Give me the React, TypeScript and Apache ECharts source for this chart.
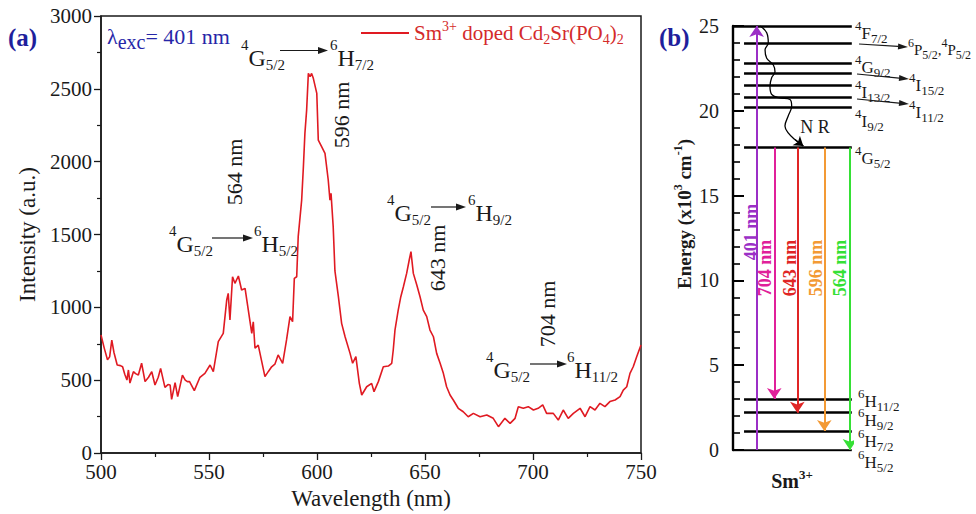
import React, { useEffect, useRef } from "react";
import * as echarts from "echarts";

// ---------- Panel (a): emission spectrum ----------
const wavelength = [
  500, 501.5, 503, 504, 505, 506, 507.5, 509, 510, 511,
  512, 512.7, 513.4, 515, 516, 517.3, 518.8, 520.4, 522, 523.5,
  525, 526.5, 527.6, 529.6, 531, 532, 532.7, 534.3, 535.5, 537.7,
  539, 540, 541, 543.2, 545.8, 548.1, 550.5, 552, 554.3, 556.6,
  558.2, 558.9, 559.7, 560.9, 562, 563.6, 565.1, 566.7, 568.2, 569.8,
  570.5, 571.3, 572.8, 575.9, 577.5, 579, 580.5, 582, 584.1, 585.9,
  587.5, 588.7, 589.5, 590.6, 591.3, 592.9, 593.7, 594.4, 595.2, 596,
  596.8, 597.5, 598.3, 599.9, 600.6, 602.2, 603.7, 605.2, 606, 606.5,
  607.5, 608.3, 609.9, 611.4, 613, 615.3, 616.5, 618, 619.6, 620.7,
  623, 625.3, 626.4, 628.4, 630.7, 633, 634.6, 635.3, 636.1, 637.6,
  638.8, 640, 641.5, 642.7, 643.5, 644.6, 646.2, 647.7, 649.2, 650.8,
  652.3, 653.9, 655.4, 657, 658.5, 660, 661.6, 663.1, 665.4, 667.7,
  670, 672.4, 675.5, 678.6, 681.6, 684, 687, 689.4, 691.7, 693.2,
  695.5, 697.8, 700.2, 702.4, 704.5, 706.3, 709.4, 711.7, 714, 716.3,
  718.7, 721.8, 724.1, 726.4, 728.7, 731, 733.3, 735.6, 738, 740.3,
  741.8, 743.4, 744.9, 746.4, 748, 750,
];
const intensity = [
  810, 720, 640, 660, 775, 690, 604, 600, 592, 540,
  501, 570, 480, 558, 545, 535, 616, 490, 520, 558,
  467, 520, 581, 451, 470, 467, 368, 483, 387, 535,
  500, 490, 490, 428, 520, 547, 604, 558, 764, 821,
  1050, 1096, 913, 1210, 1165, 1215, 1119, 1130, 981, 821,
  901, 719, 741, 524, 560, 592, 610, 673, 616, 776,
  936, 901, 1199, 1210, 1485, 1736, 1965, 2194, 2354, 2606,
  2583, 2606, 2572, 2469, 2148, 2102, 2057, 1874, 1736, 1782,
  1553, 1250, 1073, 890, 798, 684, 616, 661, 478, 398,
  455, 478, 421, 490, 592, 597, 616, 707, 844, 981,
  1073, 1141, 1233, 1325, 1382, 1233, 1153, 1073, 981, 936,
  844, 798, 684, 616, 547, 455, 398, 364, 307, 283,
  249, 272, 249, 261, 238, 181, 238, 203, 238, 318,
  307, 318, 295, 307, 330, 272, 272, 226, 295, 238,
  272, 307, 249, 318, 295, 341, 318, 353, 364, 387,
  432, 455, 547, 592, 661, 741,
];
const seriesName = "Sm3+ doped Cd2Sr(PO4)2";

// ---------- Panel (b): energy levels (x10^3 cm^-1) ----------
const levelEnergy = [25.0, 23.96, 22.83, 22.24, 21.51, 20.8, 20.21, 17.83, 3.0, 2.2, 1.12, 0];
const transitionLabels = ["401 nm", "704 nm", "643 nm", "596 nm", "564 nm"];
const transitionFrom = [0, 17.83, 17.83, 17.83, 17.83];
const transitionTo = [25, 3.0, 2.2, 1.12, 0];
const nrPathX = [2.25, 2.81, 2.94, 2.67, 2.81, 3.36, 3.5, 3.22, 3.08, 3.22, 3.78, 4.75, 4.89, 4.6, 4.33, 4.6, 5.17, 5.86];
const nrPathY = [25, 24.6, 24.0, 23.6, 23.1, 22.7, 22.3, 21.95, 21.45, 20.97, 20.77, 20.67, 20.28, 19.69, 19.1, 18.7, 18.3, 17.92];

// ---------- styles ----------
const FONT = "'Liberation Serif', 'Times New Roman', serif";
const INK = "#1a1a1a";
const BLUE = "#2626a8";
const RED = "#e01a22";
const transX = [1.97, 3.44, 5.36, 7.61, 9.75];
const transColor = ["#9b2fc6", "#e0209a", "#e02525", "#f39a35", "#35e035"];
const transLabelPos = [
  [751, 232],
  [765, 268],
  [790, 268],
  [815.5, 268],
  [840, 268],
];

const richL = {
  p: { fontFamily: FONT, fontSize: 15, fill: INK, padding: [0, 0, 26, 0], verticalAlign: "middle" },
  m: { fontFamily: FONT, fontSize: 24, fill: INK, verticalAlign: "middle" },
  q: { fontFamily: FONT, fontSize: 15, fill: INK, padding: [14, 0, 0, 0], verticalAlign: "middle" },
};
const richR = {
  p: { fontFamily: FONT, fontSize: 13, fill: INK, padding: [0, 0, 16, 0], verticalAlign: "middle" },
  m: { fontFamily: FONT, fontSize: 17, fill: INK, verticalAlign: "middle" },
  q: { fontFamily: FONT, fontSize: 13, fill: INK, padding: [10, 0, 0, 0], verticalAlign: "middle" },
};
const richRs = {
  p: { fontFamily: FONT, fontSize: 12, fill: INK, padding: [0, 0, 14, 0], verticalAlign: "middle" },
  m: { fontFamily: FONT, fontSize: 15, fill: INK, verticalAlign: "middle" },
  q: { fontFamily: FONT, fontSize: 12, fill: INK, padding: [9, 0, 0, 0], verticalAlign: "middle" },
};
const term = (s: string, L: string, sub: string) => `{p|${s}}{m|${L}}{q|${sub}}`;

function richText(x: number, y: number, text: string, rich: any, size: number) {
  return {
    type: "text",
    x,
    y,
    silent: true,
    style: { text, rich, fill: INK, fontFamily: FONT, fontSize: size, align: "left", verticalAlign: "middle" },
  };
}
function rotText(x: number, y: number, text: string, color: string, size: number, weight = "normal") {
  return {
    type: "text",
    x,
    y,
    rotation: Math.PI / 2,
    silent: true,
    style: { text, fill: color, fontFamily: FONT, fontSize: size, fontWeight: weight, align: "center", verticalAlign: "middle" },
  };
}
function arrow(x1: number, y1: number, x2: number, y2: number, hl = 10, hw = 3.5, w = 1.2) {
  const dx = x2 - x1;
  const dy = y2 - y1;
  const L = Math.hypot(dx, dy);
  const ux = dx / L;
  const uy = dy / L;
  const bx = x2 - ux * hl;
  const by = y2 - uy * hl;
  return [
    { type: "line", silent: true, shape: { x1, y1, x2: bx, y2: by }, style: { stroke: INK, lineWidth: w } },
    {
      type: "polygon",
      silent: true,
      shape: { points: [[x2, y2], [bx - uy * hw, by + ux * hw], [bx + uy * hw, by - ux * hw]] },
      style: { fill: INK },
    },
  ];
}

function buildGraphic() {
  const g: any[] = [];
  // panel labels
  g.push({ type: "text", x: 8, y: 37, silent: true, style: { text: "(a)", fill: "#1f1f9c", fontFamily: FONT, fontSize: 25, fontWeight: "bold", verticalAlign: "middle" } });
  g.push({ type: "text", x: 659, y: 37, silent: true, style: { text: "(b)", fill: "#1f1f9c", fontFamily: FONT, fontSize: 25, fontWeight: "bold", verticalAlign: "middle" } });
  // lambda exc
  g.push({
    type: "text",
    x: 107,
    y: 36,
    silent: true,
    style: {
      text: "{l|λ}{e|exc}{r|= 401 nm}",
      fill: BLUE,
      fontFamily: FONT,
      fontSize: 22,
      verticalAlign: "middle",
      rich: {
        l: { fontFamily: FONT, fontSize: 22, fill: BLUE, verticalAlign: "middle" },
        e: { fontFamily: FONT, fontSize: 20, fill: BLUE, padding: [12, 0, 0, 0], verticalAlign: "middle" },
        r: { fontFamily: FONT, fontSize: 22, fill: BLUE, verticalAlign: "middle" },
      },
    },
  });
  // panel (a) transition annotations
  g.push(richText(241, 58, term("4", "G", "5/2"), richL, 24));
  g.push(...arrow(280, 50.5, 328, 50.5));
  g.push(richText(330, 58, term("6", "H", "7/2"), richL, 24));

  g.push(richText(169, 244, term("4", "G", "5/2"), richL, 24));
  g.push(...arrow(212, 238, 253, 238));
  g.push(richText(254, 244, term("6", "H", "5/2"), richL, 24));

  g.push(richText(387, 213, term("4", "G", "5/2"), richL, 24));
  g.push(...arrow(431, 207, 466, 207));
  g.push(richText(468, 213, term("6", "H", "9/2"), richL, 24));

  g.push(richText(486, 370, term("4", "G", "5/2"), richL, 24));
  g.push(...arrow(530, 364, 567, 364));
  g.push(richText(567, 370, term("6", "H", "11/2"), richL, 24));

  g.push(rotText(341, 115, "596 nm", INK, 22));
  g.push(rotText(234, 172, "564 nm", INK, 22));
  g.push(rotText(437, 258, "643 nm", INK, 22));
  g.push(rotText(547, 314, "704 nm", INK, 22));

  // panel (b) level labels
  g.push(richText(855, 33, term("4", "F", "7/2"), richR, 17));
  g.push(...arrow(859, 44, 908, 47, 10, 3));
  g.push(richText(908, 50, term("6", "P", "5/2") + "{m|,}" + term("4", "P", "5/2"), richRs, 15));
  g.push(richText(855, 67, term("4", "G", "9/2"), richR, 17));
  g.push(...arrow(857, 74, 909, 79, 10, 3));
  g.push(richText(909, 85, term("4", "I", "15/2"), richR, 17));
  g.push(richText(855, 92, term("4", "I", "13/2"), richR, 17));
  g.push(...arrow(857, 99, 909, 104, 10, 3));
  g.push(richText(909, 112, term("4", "I", "11/2"), richR, 17));
  g.push(richText(855, 121, term("4", "I", "9/2"), richR, 17));
  g.push(richText(855, 158, term("4", "G", "5/2"), richR, 17));
  g.push(richText(858, 401, term("6", "H", "11/2"), richR, 17));
  g.push(richText(858, 420, term("6", "H", "9/2"), richR, 17));
  g.push(richText(858, 441, term("6", "H", "7/2"), richR, 17));
  g.push(richText(858, 462, term("6", "H", "5/2"), richR, 17));
  g.push({ type: "text", x: 815, y: 127, silent: true, style: { text: "N R", fill: INK, fontFamily: FONT, fontSize: 18, align: "center", verticalAlign: "middle" } });

  transitionLabels.forEach((t, i) => {
    g.push(rotText(transLabelPos[i][0], transLabelPos[i][1], t, transColor[i], 18, "bold"));
  });

  // Sm3+ under panel (b)
  g.push({
    type: "text",
    x: 792,
    y: 481,
    silent: true,
    style: {
      text: "{b|Sm}{s|3+}",
      fill: INK,
      fontFamily: FONT,
      fontSize: 20,
      fontWeight: "bold",
      align: "center",
      verticalAlign: "middle",
      rich: {
        b: { fontFamily: FONT, fontSize: 20, fontWeight: "bold", fill: INK, verticalAlign: "middle" },
        s: { fontFamily: FONT, fontSize: 13, fontWeight: "bold", fill: INK, padding: [0, 0, 14, 0], verticalAlign: "middle" },
      },
    },
  });
  // Energy axis title
  g.push({
    type: "text",
    x: 684,
    y: 214,
    rotation: Math.PI / 2,
    silent: true,
    style: {
      text: "{b|Energy (x10}{s|3}{b| cm}{s|-1}{b|)}",
      fill: INK,
      fontFamily: FONT,
      fontSize: 19,
      fontWeight: "bold",
      align: "center",
      verticalAlign: "middle",
      rich: {
        b: { fontFamily: FONT, fontSize: 19, fontWeight: "bold", fill: INK, verticalAlign: "middle" },
        s: { fontFamily: FONT, fontSize: 12, fontWeight: "bold", fill: INK, padding: [0, 0, 12, 0], verticalAlign: "middle" },
      },
    },
  });
  return g;
}

function buildOption(): any {
  const axisCommon = {
    axisLine: { show: true, lineStyle: { color: INK, width: 1.5 } },
    axisTick: { show: true, length: 7, lineStyle: { color: INK, width: 1.3 } },
    minorTick: { show: true, splitNumber: 2, length: 4, lineStyle: { color: INK, width: 1.2 } },
    splitLine: { show: false },
    axisLabel: { color: INK, fontFamily: FONT, fontSize: 21, formatter: (v: number) => String(v) },
    nameTextStyle: { color: INK, fontFamily: FONT, fontSize: 23 },
  };
  return {
    animation: false,
    backgroundColor: "#ffffff",
    textStyle: { fontFamily: FONT },
    grid: [
      { left: 101, top: 16, width: 540, height: 437, show: true, borderColor: INK, borderWidth: 1.5, backgroundColor: "transparent", outerBoundsMode: "none" },
      { left: 733, top: 26, width: 120, height: 424, show: false, outerBoundsMode: "none" },
    ],
    legend: {
      left: 356,
      top: 14,
      itemWidth: 48,
      itemHeight: 2,
      icon: "rect",
      data: [seriesName],
      formatter: () => "{a|Sm}{s|3+}{a| doped Cd}{b|2}{a|Sr(PO}{b|4}{a|)}{b|2}",
      textStyle: {
        color: "#d42a2a",
        fontFamily: FONT,
        fontSize: 21,
        rich: {
          a: { color: "#d42a2a", fontFamily: FONT, fontSize: 21, verticalAlign: "middle" },
          s: { color: "#d42a2a", fontFamily: FONT, fontSize: 14, padding: [0, 0, 14, 0], verticalAlign: "middle" },
          b: { color: "#d42a2a", fontFamily: FONT, fontSize: 14, padding: [12, 0, 0, 0], verticalAlign: "middle" },
        },
      },
    },
    xAxis: [
      {
        ...axisCommon,
        gridIndex: 0,
        type: "value",
        min: 500,
        max: 750,
        interval: 50,
        name: "Wavelength (nm)",
        nameLocation: "middle",
        nameGap: 34,
        axisLabel: { ...axisCommon.axisLabel, margin: 8 },
      },
      { gridIndex: 1, type: "value", min: 0, max: 10, show: false },
    ],
    yAxis: [
      {
        ...axisCommon,
        gridIndex: 0,
        type: "value",
        min: 0,
        max: 3000,
        interval: 500,
        name: "Intensity (a.u.)",
        nameLocation: "middle",
        nameRotate: 90,
        nameGap: 58,
        axisLabel: { ...axisCommon.axisLabel, margin: 9 },
      },
      {
        gridIndex: 1,
        type: "value",
        min: 0,
        max: 25,
        interval: 5,
        axisLine: { show: true, lineStyle: { color: "#000", width: 2.4 } },
        axisTick: { show: true, inside: true, length: 11, lineStyle: { color: "#000", width: 2 } },
        minorTick: { show: true, splitNumber: 5, length: 7, lineStyle: { color: "#000", width: 1.6 } },
        splitLine: { show: false },
        axisLabel: { color: INK, fontFamily: FONT, fontSize: 20, margin: 14 },
      },
    ],
    series: [
      {
        name: seriesName,
        type: "line",
        xAxisIndex: 0,
        yAxisIndex: 0,
        data: wavelength.map((w, i) => [w, intensity[i]]),
        symbol: "none",
        lineStyle: { color: RED, width: 1.6 },
        itemStyle: { color: RED },
        z: 3,
      },
      {
        type: "lines",
        coordinateSystem: "cartesian2d",
        xAxisIndex: 1,
        yAxisIndex: 1,
        silent: true,
        symbol: "none",
        data: levelEnergy.map((e) => ({ coords: [[e === 25 || e === 0 ? 0 : 0.92, e], [9.9, e]] })),
        lineStyle: { color: "#000", width: 2.6, opacity: 1 },
        z: 2,
      },
      {
        type: "lines",
        coordinateSystem: "cartesian2d",
        xAxisIndex: 1,
        yAxisIndex: 1,
        silent: true,
        symbol: ["none", "arrow"],
        symbolSize: 11,
        data: transitionLabels.map((n, i) => ({
          name: n,
          coords: [[transX[i], transitionFrom[i]], [transX[i], transitionTo[i]]],
          lineStyle: { color: transColor[i], width: 2, opacity: 1 },
        })),
        lineStyle: { width: 2, opacity: 1 },
        z: 3,
      },
      {
        type: "line",
        xAxisIndex: 1,
        yAxisIndex: 1,
        silent: true,
        smooth: 0.4,
        symbol: "none",
        data: nrPathX.map((x, i) => [x, nrPathY[i]]),
        lineStyle: { color: "#000", width: 1.3 },
        z: 4,
      },
      {
        type: "lines",
        coordinateSystem: "cartesian2d",
        xAxisIndex: 1,
        yAxisIndex: 1,
        silent: true,
        symbol: ["none", "arrow"],
        symbolSize: 9,
        data: [{ coords: [[nrPathX[16], nrPathY[16]], [nrPathX[17], nrPathY[17]]] }],
        lineStyle: { color: "#000", width: 1.3, opacity: 1 },
        z: 4,
      },
    ],
    graphic: buildGraphic(),
  };
}

export default function App() {
  const ref = useRef<HTMLDivElement>(null);
  useEffect(() => {
    if (!ref.current) return;
    const chart = echarts.init(ref.current, null, { renderer: "svg" });
    chart.setOption(buildOption());
    return () => chart.dispose();
  }, []);
  return (
    <div
      ref={ref}
      style={{ position: "fixed", left: 0, top: 0, width: 976, height: 514, background: "#fff" }}
    />
  );
}
